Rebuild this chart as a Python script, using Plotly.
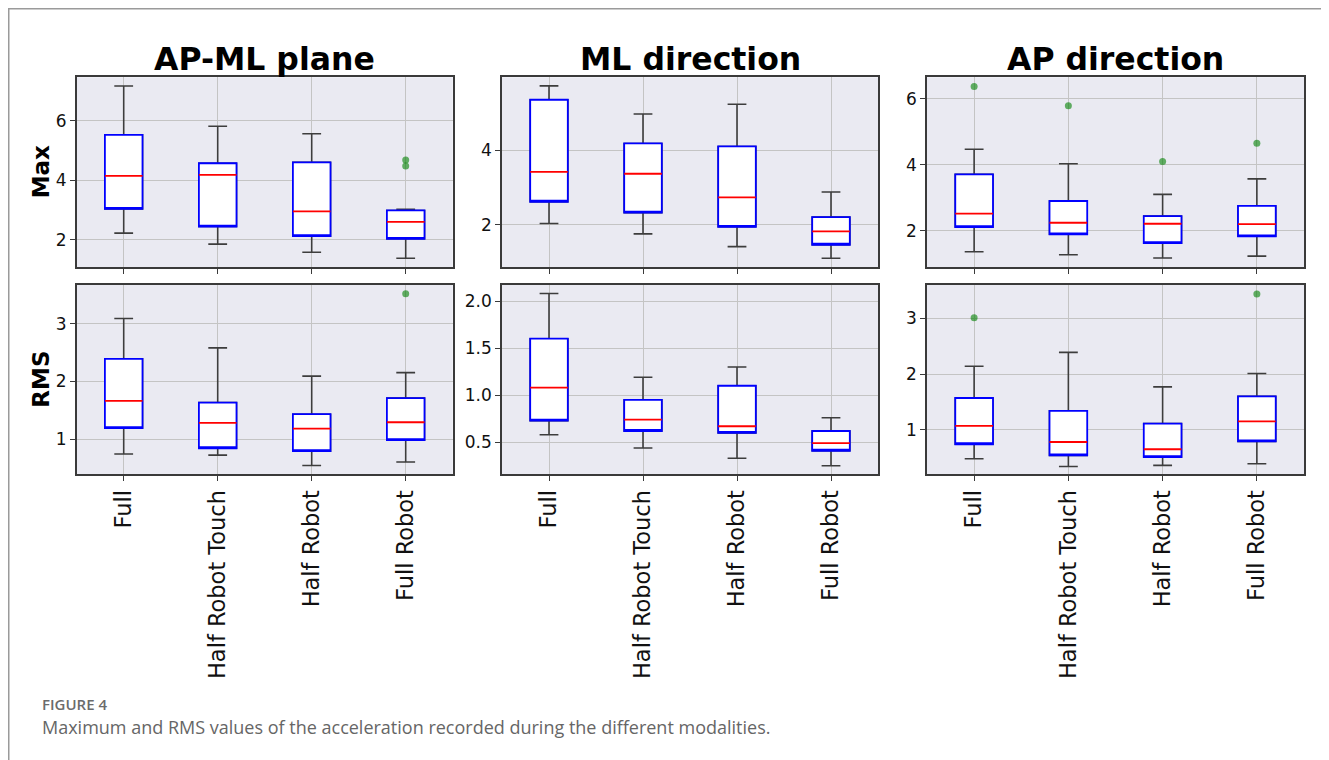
import plotly.graph_objects as go
from plotly.subplots import make_subplots

categories = ["Full", "Half Robot Touch", "Half Robot", "Full Robot"]
col_titles = ["AP-ML plane", "ML direction", "AP direction"]
row_titles = ["Max", "RMS"]

# Box statistics per panel: [lower whisker, Q1, median, Q3, upper whisker]
apml_max_low = [2.23, 1.86, 1.59, 1.39]
apml_max_q1 = [3.04, 2.45, 2.13, 2.04]
apml_max_med = [4.15, 4.18, 2.96, 2.61]
apml_max_q3 = [5.52, 4.57, 4.60, 2.99]
apml_max_high = [7.16, 5.81, 5.56, 3.03]
apml_max_out_x = ["Full Robot", "Full Robot"]
apml_max_out_y = [4.68, 4.48]

ml_max_low = [2.04, 1.76, 1.42, 1.11]
ml_max_q1 = [2.62, 2.33, 1.95, 1.47]
ml_max_med = [3.42, 3.37, 2.74, 1.83]
ml_max_q3 = [5.35, 4.18, 4.10, 2.21]
ml_max_high = [5.72, 4.97, 5.23, 2.88]
ml_max_out_x = []
ml_max_out_y = []

ap_max_low = [1.36, 1.27, 1.17, 1.23]
ap_max_q1 = [2.11, 1.89, 1.62, 1.83]
ap_max_med = [2.52, 2.24, 2.21, 2.20]
ap_max_q3 = [3.71, 2.90, 2.44, 2.75]
ap_max_high = [4.47, 4.03, 3.10, 3.57]
ap_max_out_x = ["Full", "Half Robot Touch", "Half Robot", "Full Robot"]
ap_max_out_y = [6.37, 5.79, 4.10, 4.65]

apml_rms_low = [0.74, 0.72, 0.54, 0.60]
apml_rms_q1 = [1.19, 0.84, 0.79, 0.98]
apml_rms_med = [1.66, 1.28, 1.18, 1.29]
apml_rms_q3 = [2.39, 1.63, 1.43, 1.71]
apml_rms_high = [3.09, 2.58, 2.09, 2.15]
apml_rms_out_x = ["Full Robot"]
apml_rms_out_y = [3.52]

ml_rms_low = [0.58, 0.44, 0.33, 0.25]
ml_rms_q1 = [0.73, 0.62, 0.60, 0.41]
ml_rms_med = [1.08, 0.74, 0.67, 0.49]
ml_rms_q3 = [1.60, 0.95, 1.10, 0.62]
ml_rms_high = [2.08, 1.19, 1.30, 0.76]
ml_rms_out_x = []
ml_rms_out_y = []

ap_rms_low = [0.48, 0.34, 0.36, 0.39]
ap_rms_q1 = [0.74, 0.54, 0.51, 0.79]
ap_rms_med = [1.07, 0.78, 0.65, 1.15]
ap_rms_q3 = [1.57, 1.34, 1.11, 1.60]
ap_rms_high = [2.14, 2.39, 1.77, 2.01]
ap_rms_out_x = ["Full", "Full Robot"]
ap_rms_out_y = [3.01, 3.44]

panels = [
    (1, 1, apml_max_low, apml_max_q1, apml_max_med, apml_max_q3, apml_max_high, apml_max_out_x, apml_max_out_y),
    (1, 2, ml_max_low, ml_max_q1, ml_max_med, ml_max_q3, ml_max_high, ml_max_out_x, ml_max_out_y),
    (1, 3, ap_max_low, ap_max_q1, ap_max_med, ap_max_q3, ap_max_high, ap_max_out_x, ap_max_out_y),
    (2, 1, apml_rms_low, apml_rms_q1, apml_rms_med, apml_rms_q3, apml_rms_high, apml_rms_out_x, apml_rms_out_y),
    (2, 2, ml_rms_low, ml_rms_q1, ml_rms_med, ml_rms_q3, ml_rms_high, ml_rms_out_x, ml_rms_out_y),
    (2, 3, ap_rms_low, ap_rms_q1, ap_rms_med, ap_rms_q3, ap_rms_high, ap_rms_out_x, ap_rms_out_y),
]

y_ranges = {
    (1, 1): [1.085, 7.45], (1, 2): [0.867, 5.95], (1, 3): [0.89, 6.65],
    (2, 1): [0.388, 3.67], (2, 2): [0.16, 2.17], (2, 3): [0.20, 3.60],
}
y_dticks = {(1, 1): 2, (1, 2): 2, (1, 3): 2, (2, 1): 1, (2, 2): 0.5, (2, 3): 1}

# The page body has an 8px margin, so the figure is offset by 8px.
OFF = 8
W, H = 1321, 752
FONT = "DejaVu Sans"


def px(x):
    return (x - OFF) / W


def py(y):
    return 1 - (y - OFF) / H


fig = make_subplots(rows=2, cols=3)

BOXW = 0.40
for (r, c, lo, q1, med, q3, hi, ox, oy) in panels:
    # whiskers + caps (gray)
    fig.add_trace(go.Box(
        x=categories, q1=q1, median=q1, q3=q3, lowerfence=lo, upperfence=hi,
        width=BOXW, whiskerwidth=0.5, fillcolor="white",
        line=dict(color="#3d3d3d", width=1.6), boxpoints=False,
        showlegend=False, hoverinfo="skip"), row=r, col=c)
    # box body (blue)
    fig.add_trace(go.Box(
        x=categories, q1=q1, median=q1, q3=q3, lowerfence=q1, upperfence=q3,
        width=BOXW, whiskerwidth=0, fillcolor="white",
        line=dict(color="#0000ff", width=1.8), boxpoints=False,
        showlegend=False, hoverinfo="skip"), row=r, col=c)
    # median (red)
    fig.add_trace(go.Box(
        x=categories, q1=med, median=med, q3=med, lowerfence=med, upperfence=med,
        width=BOXW, whiskerwidth=0, fillcolor="rgba(0,0,0,0)",
        line=dict(color="#ff0000", width=1.8), boxpoints=False,
        showlegend=False, hoverinfo="skip"), row=r, col=c)
    if ox:
        fig.add_trace(go.Scatter(
            x=ox, y=oy, mode="markers",
            marker=dict(color="rgba(0,128,0,0.6)", size=7, line=dict(width=0)),
            showlegend=False, hoverinfo="skip"), row=r, col=c)

x_domains = [[px(76.7), px(452.7)], [px(502), px(878)], [px(927), px(1304)]]
y_domains = {1: [py(267.3), py(77.3)], 2: [py(474.3), py(285)]}

for r in (1, 2):
    for c in (1, 2, 3):
        fig.update_xaxes(
            domain=x_domains[c - 1], type="category", categoryorder="array",
            categoryarray=categories, range=[-0.5, 3.5],
            showgrid=True, gridcolor="#c4c4c4", gridwidth=1,
            showline=True, linecolor="#3a3a3a", linewidth=1.5, mirror=True,
            ticks="outside", ticklen=5, tickcolor="#3a3a3a", tickwidth=1.2,
            showticklabels=(r == 2), tickangle=-90,
            tickfont=dict(family=FONT, size=22.5, color="#111"),
            zeroline=False, row=r, col=c)
        fig.update_yaxes(
            domain=y_domains[r], range=y_ranges[(r, c)], dtick=y_dticks[(r, c)],
            tick0=0, tickformat=".1f" if (r, c) == (2, 2) else "d",
            showgrid=True, gridcolor="#c4c4c4", gridwidth=1,
            showline=True, linecolor="#3a3a3a", linewidth=1.5, mirror=True,
            ticks="outside", ticklen=5, tickcolor="#3a3a3a", tickwidth=1.2,
            tickfont=dict(family=FONT, size=17, color="#111"),
            zeroline=False, row=r, col=c)

annotations = []
for i, t in enumerate(col_titles):
    cx = (x_domains[i][0] + x_domains[i][1]) / 2
    annotations.append(dict(
        text=t, x=cx, y=py(59), xref="paper", yref="paper",
        xanchor="center", yanchor="middle", showarrow=False,
        font=dict(family=FONT, size=31.5, color="black", weight="bold")))
for r, t in zip((1, 2), row_titles):
    cy = (y_domains[r][0] + y_domains[r][1]) / 2
    annotations.append(dict(
        text=t, x=px(41), y=cy, xref="paper", yref="paper",
        xanchor="center", yanchor="middle", textangle=-90, showarrow=False,
        font=dict(family=FONT, size=23, color="black", weight="bold")))
annotations.append(dict(
    text="FIGURE 4", x=px(40), y=py(704), xref="paper", yref="paper",
    xanchor="left", yanchor="middle", showarrow=False,
    font=dict(family="Open Sans", size=15, color="#6b6b6b", weight=600)))
annotations.append(dict(
    text="Maximum and RMS values of the acceleration recorded during the different modalities.",
    x=px(40), y=py(727), xref="paper", yref="paper",
    xanchor="left", yanchor="middle", showarrow=False,
    font=dict(family="Open Sans", size=18, color="#666666")))

shapes = [
    dict(type="line", xref="paper", yref="paper", x0=0, x1=1, y0=1 - 0.75 / H, y1=1 - 0.75 / H,
         line=dict(color="#9a9a9a", width=1.5)),
    dict(type="line", xref="paper", yref="paper", x0=0.75 / W, x1=0.75 / W, y0=0, y1=1,
         line=dict(color="#9a9a9a", width=1.5)),
]

fig.update_layout(
    width=W, height=H, margin=dict(l=0, r=0, t=0, b=0),
    paper_bgcolor="white", plot_bgcolor="#eaeaf2",
    boxmode="overlay", showlegend=False,
    annotations=annotations, shapes=shapes,
    font=dict(family=FONT),
)

fig.write_html("out.html")
